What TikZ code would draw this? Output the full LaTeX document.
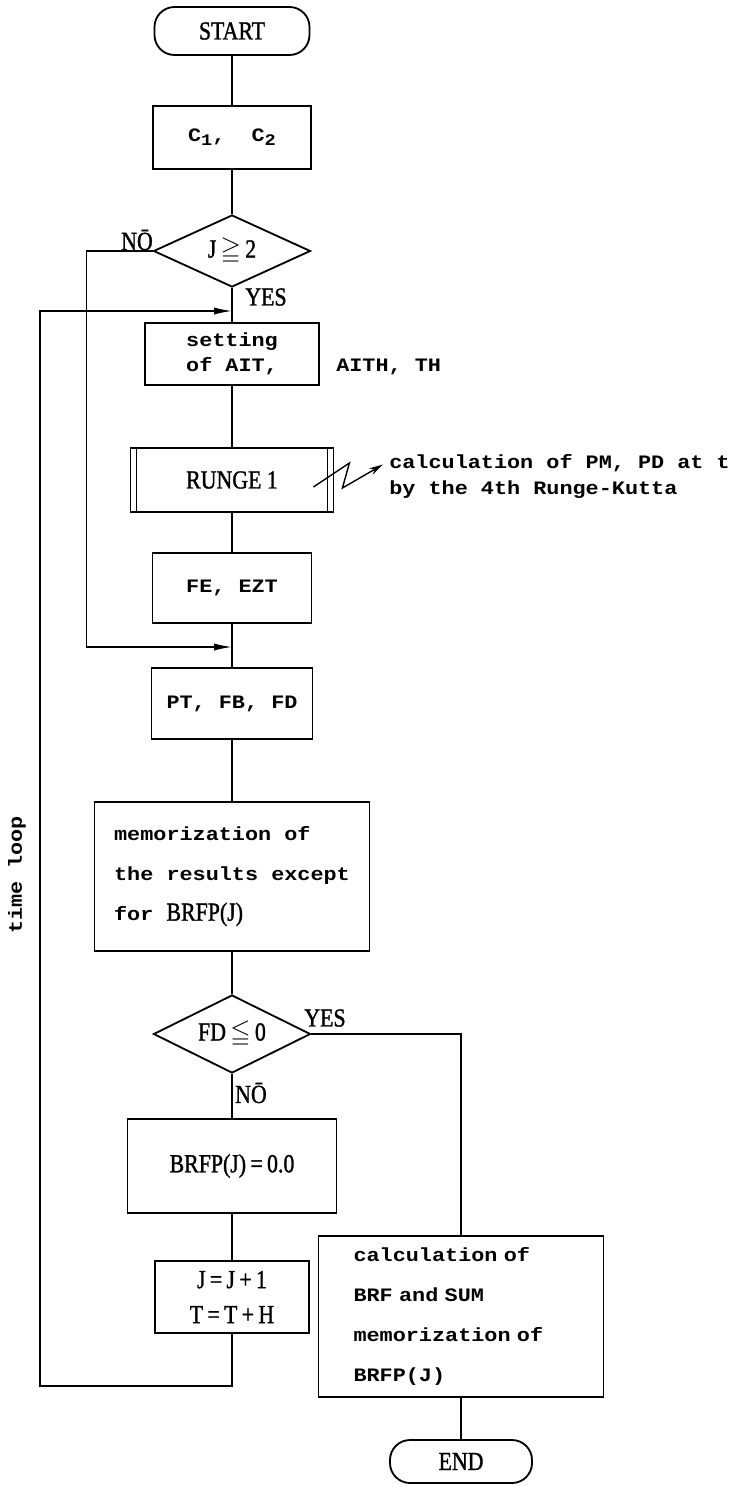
\documentclass[tikz,border=0pt]{standalone}
\usepackage{fontspec}
\usepackage{amssymb}
\usetikzlibrary{calc,arrows.meta,positioning,shapes.geometric}
\newfontfamily\tw[FakeStretch=1.15]{Liberation Mono Bold}
\newfontfamily\nr[FakeStretch=0.84, FakeBold=1.2]{Liberation Serif}
\newcommand{\twtext}{\tw\fontsize{13.5}{28.4}\selectfont}
\newcommand{\nrtext}{\nr\fontsize{18.5}{25}\selectfont}
\newcommand{\lowsub}[1]{\raisebox{-0.4ex}{\fontsize{11.5}{11.5}\selectfont #1}}

\begin{document}
\begin{tikzpicture}[
  x=0.25mm, y=-0.25mm, >=Stealth,
  terminal/.style={rectangle, draw, line width=1.3pt, rounded corners=5mm, font=\nrtext},
  block/.style={rectangle, draw, line width=1.3pt, font=\twtext, align=center},
  decision/.style={diamond, draw, line width=1.3pt, aspect=2, inner sep=0pt, font=\nrtext},
  lbl/.style={font=\nrtext, inner sep=0pt},
  note/.style={font=\twtext, inner sep=0pt},
  line/.style={draw, line width=1.1pt},
  arrline/.style={draw, line width=1.1pt, -{Latex[length=4.5mm, width=1.8mm]}},
  zigzag/.style={draw, line width=1pt, -{Stealth[length=3.5mm, width=1.8mm]}}
]
  \useasboundingbox (0,0) rectangle (744,1486);

  % main column
  \node[terminal, minimum width=38.75mm, minimum height=12mm] (start) at (232,31) {START};
  \node[block, minimum width=39.5mm, minimum height=15.75mm] (cc) at (232,137.5) {C\lowsub{1},\ \ C\lowsub{2}};
  \node[decision, minimum width=39.25mm, minimum height=18mm] (jtest) at (232,251) {J\,$\geqq$\,2};
  \node[block, minimum width=43.5mm, minimum height=15.5mm, align=left, font=\tw\fontsize{13.5}{17.8}\selectfont] (setting) at (232,354) {setting\\of AIT,};
  \node[note, anchor=west] (aith) at (336,367) {AITH, TH};

  % Runge-Kutta step
  \node[block, minimum width=50.75mm, minimum height=16mm, font=\nrtext] (runge) at (232,480) {RUNGE 1};
  \draw[line width=1.3pt] ([xshift=1.75mm]runge.north west) -- ([xshift=1.75mm]runge.south west);
  \draw[line width=1.3pt] ([xshift=-1.75mm]runge.north east) -- ([xshift=-1.75mm]runge.south east);
  \node[note, anchor=west, align=left, font=\tw\fontsize{13.5}{19}\selectfont] (rknote) at (389,476.5) {calculation of PM, PD at t\\by the 4th Runge-Kutta};

  \node[block, minimum width=39.75mm, minimum height=17.5mm] (fe) at (232,588) {FE, EZT};
  \node[block, minimum width=40.25mm, minimum height=17.75mm] (pt) at (232,703.5) {PT, FB, FD};
  \node[block, minimum width=68.75mm, minimum height=37.25mm, align=left] (memo) at (232,876.5) {memorization of\\the results except\\for {\nrtext BRFP(J)}};

  % second test
  \node[decision, minimum width=39.25mm, minimum height=19.5mm] (fdtest) at (232,1034) {FD\,$\leqq$\,0};
  \node[block, minimum width=52.25mm, minimum height=23.5mm, font=\nrtext] (brfp) at (232,1166) {BRFP(J)\,=\,0.0};
  \node[block, minimum width=38.5mm, minimum height=18mm, font=\nr\fontsize{18.5}{24.9}\selectfont] (jinc) at (232,1297) {J\,=\,J\,+\,1\\T\,=\,T\,+\,H};

  % exit branch
  \node[block, minimum width=71.25mm, minimum height=40.25mm, align=left, text width=53.75mm, inner xsep=8.75mm] (calc) at (461,1316.5) {calculation of\\BRF and SUM\\memorization of\\BRFP(J)};
  \node[terminal, minimum width=35.5mm, minimum height=10.75mm] (stop) at (461,1461.5) {END};

  % labels
  \node[lbl] (no1) at (137,240) {N\=O};
  \node[lbl] (yes1) at (266,297) {YES};
  \node[lbl] (yes2) at (325,1018) {YES};
  \node[lbl] (no2) at (251,1093) {N\=O};
  \node[note, rotate=90] (tloop) at (17,875) {time loop};

  \coordinate (loopin) at (232,311);
  \coordinate (merge) at (232,647);

  % connectors
  \draw[line] (start) -- (cc);
  \draw[line] (cc) -- (jtest);
  \draw[line] (jtest) -- (setting);
  \draw[line] (setting) -- (runge);
  \draw[line] (runge) -- (fe);
  \draw[line] (fe) -- (pt);
  \draw[line] (pt) -- (memo);
  \draw[line] (memo) -- (fdtest);
  \draw[line] (fdtest) -- (brfp);
  \draw[line] (brfp) -- (jinc);
  \draw[line] (fdtest.east) -| (calc.north);
  \draw[line] (calc) -- (stop);
  \draw[arrline] (jtest.west) -- ++(-66,0) |- (merge);
  \draw[arrline] (jinc.south) |- (40,1386) |- (loopin);
  \draw[zigzag] ($(runge.east)+(-21,7)$) -- ++(36,-24) -- ++(-7,25) -- ($(rknote.west)+(-6,-12)$);

\end{tikzpicture}
\end{document}
